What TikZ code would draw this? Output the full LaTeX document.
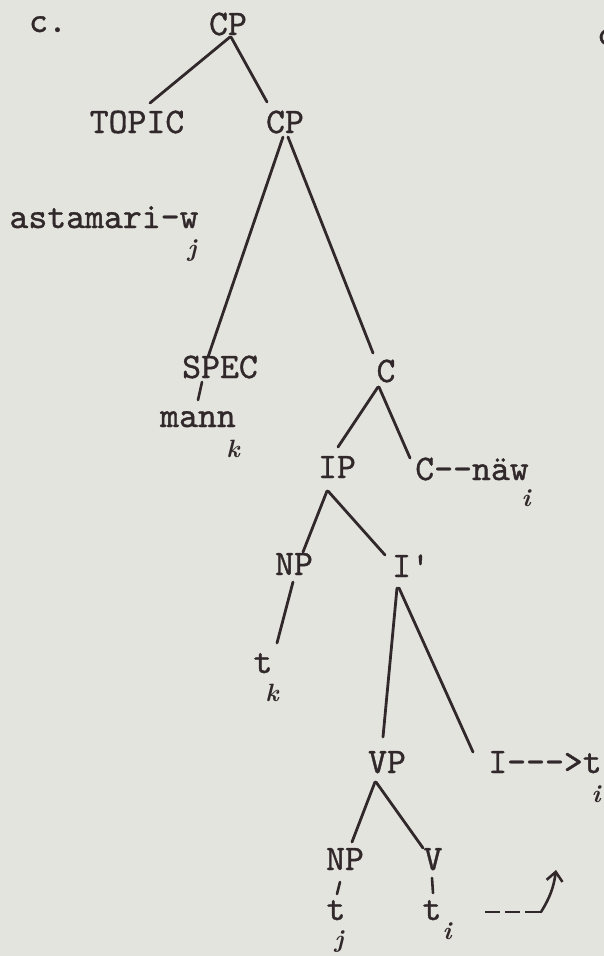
\documentclass[tikz,border=0pt]{standalone}
\usepackage{fontspec}
\setmonofont{lmmono10-regular.otf}[FakeBold=1]
\usetikzlibrary{calc,arrows.meta}
\definecolor{paper}{RGB}{228,228,222}
\definecolor{ink}{RGB}{48,40,42}
\begin{document}
\begin{tikzpicture}[x=1pt,y=-1pt,
  lbl/.style={font=\ttfamily\fontsize{36}{36}\selectfont, text=ink, inner sep=0pt, anchor=base},
  idx/.style={font=\bfseries\itshape\fontsize{25}{25}\selectfont, text=ink, inner sep=0pt},
  edge/.style={draw=ink, line width=2.8pt, line cap=round},
  tick/.style={draw=ink, line width=2.6pt, line cap=round}]
\fill[paper] (0,0) rectangle (604,956);
\useasboundingbox (0,0) rectangle (604,956);
% labels
\node[lbl] (lab) at (48,32) {c.};
\node[lbl, anchor=base west] (frag) at (597,45) {c};
\node[lbl] (cpA) at (228,35) {CP};
\node[lbl] (topic) at (137,133) {TOPIC};
\node[lbl] (cpB) at (285,133) {CP};
\node[lbl] (astam) at (104,228) {astamari-w};
\node[lbl] (spec) at (220,378) {SPEC};
\node[lbl] (cC) at (386,382) {C};
\node[lbl] (mann) at (198,427) {mann};
\node[lbl] (ip) at (337,478) {IP};
\node[lbl] (cnaw) at (472,480) {C-{}-näw};
\node[lbl] (np1) at (294,575) {NP};
\node[lbl] (ibar) at (411,577) {I'};
\node[lbl] (t1) at (263,673) {t};
\node[lbl] (vp) at (387,773) {VP};
\node[lbl] (iarrow) at (545,773) {I-{}-{}->t};
\node[lbl] (np2) at (345,870) {NP};
\node[lbl] (v) at (433,870) {V};
\node[lbl] (t2) at (336,920) {t};
\node[lbl] (t3) at (432,920) {t};
% indices
\node[idx] (ja) at (192,251) {j};
\node[idx] (ka) at (233,449) {k};
\node[idx] (ia) at (526,498) {i};
\node[idx] (kb) at (272,693) {k};
\node[idx] (ib) at (596,794) {i};
\node[idx] (jb) at (339,942) {j};
\node[idx] (ic) at (447,931) {i};
% tree lines
\draw[edge] ($(cpA.base)+(2,2)$) -- ($(topic.base)+(13,-30)$);
\draw[edge] ($(cpA.base)+(3,2)$) -- ($(cpB.base)+(-18,-31)$);
\draw[edge] ($(cpB.base)+(-2,4)$) -- ($(spec.base)+(-12,-21)$);
\draw[edge] ($(cpB.base)+(3,4)$) -- ($(cC.base)+(-13,-29)$);
\draw[edge] ($(cC.base)+(-8,5)$) -- ($(ip.base)+(1,-31)$);
\draw[edge] ($(cC.base)+(-7,5)$) -- ($(cnaw.base)+(-62,-22)$);
\draw[edge] ($(ip.base)+(-10,13)$) -- ($(np1.base)+(9,-23)$);
\draw[edge] ($(ip.base)+(-9,13)$) -- ($(ibar.base)+(-26,-22)$);
\draw[edge] ($(np1.base)+(-1,7)$) -- ($(t1.base)+(14,-30)$);
\draw[edge] ($(ibar.base)+(-14,11)$) -- ($(vp.base)+(-4,-36)$);
\draw[edge] ($(ibar.base)+(-12,11)$) -- ($(iarrow.base)+(-72,-21)$);
\draw[edge] ($(vp.base)+(-12,9)$) -- ($(np2.base)+(7,-28)$);
\draw[edge] ($(vp.base)+(-11,9)$) -- ($(v.base)+(-10,-22)$);
\draw[tick] ($(spec.base)+(-18,4)$) -- ($(mann.base)+(0,-27)$);
\draw[tick] ($(np2.base)+(-5,12)$) -- ($(t2.base)+(1,-26)$);
\draw[tick] ($(v.base)+(-1,8)$) -- ($(t3.base)+(1,-27)$);
% movement arrow
\coordinate (dstart) at ($(t3.base)+(53,-8)$);
\coordinate (dcorner) at ($(t3.base)+(109,-8)$);
\coordinate (dtip) at ($(t3.base)+(124,-50)$);
\draw[ink, line width=2.6pt, dash pattern=on 15pt off 5pt] (dstart) -- (dcorner);
\draw[ink, line width=2.6pt, line cap=round, -{Straight Barb[length=9pt,width=16pt]}] (dcorner) to[bend right=12] (dtip);
\end{tikzpicture}
\end{document}
